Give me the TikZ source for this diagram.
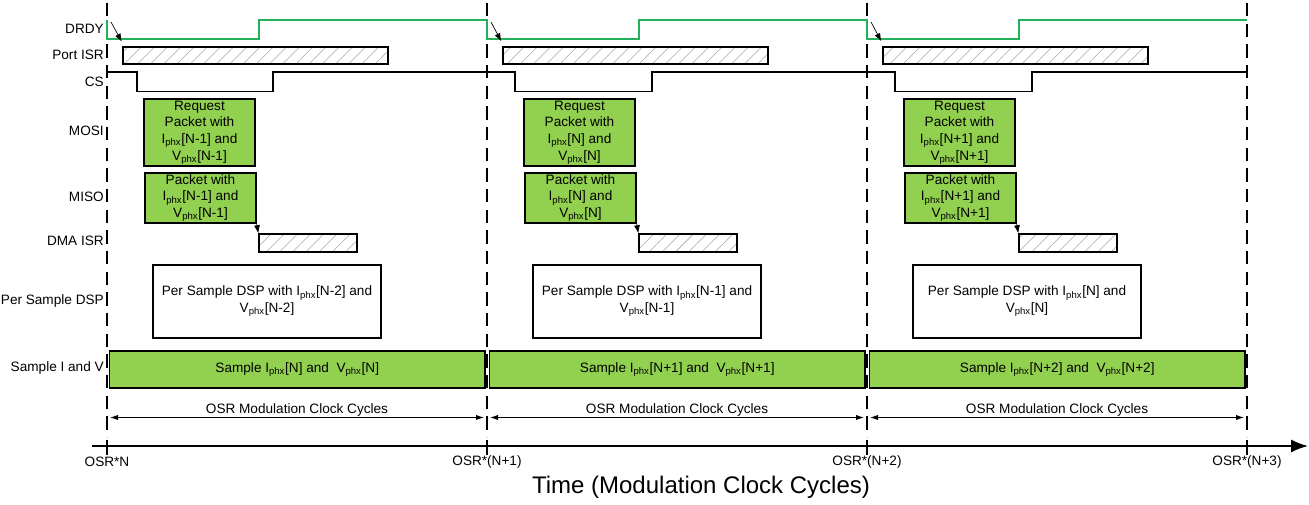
\documentclass[tikz,border=0pt]{standalone}
\usepackage{fontspec}
\setmainfont{Liberation Sans}
\usetikzlibrary{arrows.meta,patterns.meta,calc}
\definecolor{sig}{RGB}{34,177,90}
\definecolor{boxgreen}{RGB}{146,208,80}
\newcommand\Iphx[1]{I\textsubscript{phx}[#1]}
\newcommand\Vphx[1]{V\textsubscript{phx}[#1]}
\begin{document}
\begin{tikzpicture}[x=0.75pt,y=-0.75pt,
  every node/.style={font=\fontsize{10.2}{12.5}\selectfont, inner sep=0pt},
  lbl/.style={anchor=east},
  gbox/.style={draw=black, line width=1.1pt, fill=boxgreen, align=center},
  wbox/.style={draw=black, line width=1.1pt, fill=white, align=center},
  hbox/.style={draw=black, line width=1.1pt, pattern={Lines[angle=45,distance=7pt,line width=0.4pt]}, pattern color=gray!70},
  gridline/.style={line width=1.3pt, dash pattern=on 10pt off 5.5pt},
  sigline/.style={line width=1.4pt},
  arr/.style={-{Latex[length=6pt,width=4.5pt]}, line width=0.5pt},
  dim/.style={{Latex[length=6pt,width=4pt]}-{Latex[length=6pt,width=4pt]}, line width=0.7pt},
]
\useasboundingbox (0,0) rectangle (1309,505);

% vertical dashed grid lines and axis ticks
\foreach \x in {107,487,867,1247} {
  \draw[gridline] (\x,3) -- (\x,437);
  \draw[line width=1.3pt] (\x,440) -- (\x,455);
}
% time axis
\draw[line width=1.3pt, -{Latex[length=12.75pt,width=9.75pt]}] (92,446) -- (1308,446);

% row labels
\node[lbl] (lDRDY) at (104,29) {DRDY};
\node[lbl] (lPISR) at (104,55) {Port ISR};
\node[lbl] (lCS) at (104,82) {CS};
\node[lbl] (lMOSI) at (104,131) {MOSI};
\node[lbl] (lMISO) at (104,197) {MISO};
\node[lbl] (lDMA) at (104,241) {DMA ISR};
\node[lbl] (lDSP) at (104,301) {Per Sample DSP};
\node[lbl] (lSIV) at (104,368) {Sample I and V};

% DRDY signal
\draw[sigline, sig] (107,20) -- (107,39) -- (259,39) -- (259,20) -- (487,20) -- (487,39) -- (639,39) -- (639,20)
  -- (867,20) -- (867,39) -- (1019,39) -- (1019,20) -- (1247,20);
% CS signal
\draw[sigline] (107,72) -- (137,72) -- (137,91.5) -- (273,91.5) -- (273,72) -- (515,72) -- (515,91.5) -- (652,91.5)
  -- (652,72) -- (895,72) -- (895,91.5) -- (1032,91.5) -- (1032,72) -- (1247,72);

\foreach \k/\a/\b/\c [evaluate=\k as \xo using 107+380*\k] in {0/N-1/N-2/N,1/N/N-1/N+1,2/N+1/N/N+2} {
  \node[hbox, minimum width=198.75pt, minimum height=12.75pt] (pisr\k) at (\xo+148.5,55.5) {};
  \coordinate (fall\k) at (\xo+4,22);
  \draw[arr] (fall\k) -- ($(pisr\k.north west)+(-1,-5)$);
  \node[gbox, minimum width=83.25pt, minimum height=50.25pt] (mosi\k) at (\xo+92.5,132.5)
    {Request\\Packet with\\\Iphx{\a} and\\\Vphx{\a}};
  \node[gbox, minimum width=83.25pt, minimum height=37.5pt] (miso\k) at (\xo+93.5,198)
    {Packet with\\\Iphx{\a} and\\\Vphx{\a}};
  \node[hbox, minimum width=73.5pt, minimum height=13.5pt] (dma\k) at (\xo+201,243) {};
  \draw[arr] (miso\k.south east) -- (dma\k.north west);
  \node[wbox, minimum width=171pt, minimum height=54.75pt] (dsp\k) at (\xo+160,301.5)
    {Per Sample DSP with \Iphx{\b} and\\\Vphx{\b}};
  \node[gbox, minimum width=281.6pt, minimum height=27.75pt] (siv\k) at (\xo+190.25,369.5)
    {Sample \Iphx{\c} and~ \Vphx{\c}};
  \coordinate (da\k) at (\xo+3,417.5);
  \coordinate (db\k) at (\xo+377,417.5);
  \draw[dim] (da\k) -- (db\k);
  \node (osr\k) at (\xo+190,409.5) {OSR Modulation Clock Cycles};
}

% axis tick labels
\node (t0) at (107,462) {OSR*N};
\node (t1) at (487,462) {OSR*(N+1)};
\node (t2) at (867,462) {OSR*(N+2)};
\node (t3) at (1247,462) {OSR*(N+3)};
\node[font=\fontsize{18}{20}\selectfont] (title) at (701,487) {Time (Modulation Clock Cycles)};
\end{tikzpicture}
\end{document}
